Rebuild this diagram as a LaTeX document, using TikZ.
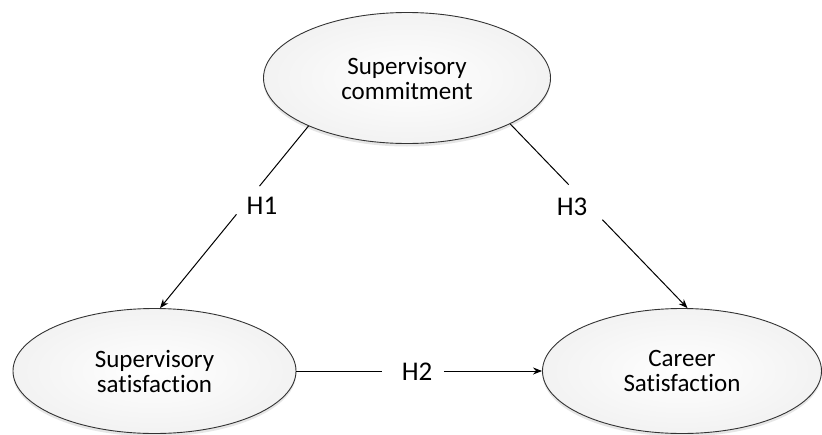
\documentclass[tikz,border=0pt]{standalone}
\usepackage{fontspec}
\setmainfont[Ligatures=NoCommon]{Carlito}
\usetikzlibrary{shapes.geometric,arrows.meta,calc,shadows}
\begin{document}
\begin{tikzpicture}[x=1pt,y=-1pt,
  var/.style={ellipse,draw=black!80,line width=0.9pt,inner sep=0pt,
    shading=radial,inner color=white,outer color=black!5,
    drop shadow={opacity=0.2,shadow xshift=0pt,shadow yshift=-3pt},
    align=center,font=\fontsize{25}{25}\selectfont},
  hyp/.style={font=\fontsize{27}{30}\selectfont,inner sep=0pt},
  conn/.style={line width=1pt,black},
  arr/.style={conn,-{Stealth[length=9pt,width=7pt]}}]
\useasboundingbox (0,0) rectangle (822,434);
\node[var,minimum width=287,minimum height=131] (sc) at (407,78) {Supervisory\\commitment};
\node[var,minimum width=283,minimum height=125] (ss) at (154.5,371) {Supervisory\\satisfaction};
\node[var,minimum width=279,minimum height=125] (cs) at (682,371) {Career\\Satisfaction};
\node[hyp] (h1) at (262,206) {H1};
\node[hyp] (h2) at (417,372) {H2};
\node[hyp] (h3) at (572,207) {H3};
\draw[conn] (sc.206) -- ($(sc.206)!0.33!(ss.85)$);
\draw[arr] ($(sc.206)!0.485!(ss.85)$) -- (ss.85);
\draw[conn] (sc.-24) -- ($(sc.-24)!0.33!(cs.85)$);
\draw[arr] ($(sc.-24)!0.52!(cs.85)$) -- (cs.85);
\draw[conn] (ss.east) -- ($(ss.east)!0.35!(cs.west)$);
\draw[arr] ($(ss.east)!0.6!(cs.west)$) -- (cs.west);
\end{tikzpicture}
\end{document}
